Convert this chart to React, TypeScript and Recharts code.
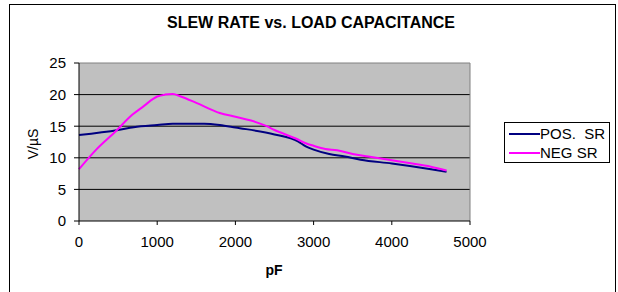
import React from "react";
import { LineChart, Line, XAxis, YAxis, CartesianGrid, ReferenceLine } from "recharts";

const posX = [0, 500, 700, 1000, 1200, 1600, 1800, 2000, 2500, 2800, 2900, 3000, 3200, 3400, 3600, 4000, 4500, 4700];
const posY = [13.6, 14.4, 14.85, 15.2, 15.4, 15.4, 15.2, 14.8, 13.7, 12.6, 11.8, 11.3, 10.6, 10.2, 9.7, 9.1, 8.2, 7.8];

const negX = [0, 220, 470, 680, 820, 1000, 1100, 1200, 1300, 1500, 1800, 2000, 2200, 2400, 2500, 2800, 2900, 3000, 3150, 3300, 3500, 3700, 3900, 4200, 4500, 4700];
const negY = [8.2, 11.3, 14.2, 16.8, 18.1, 19.7, 20.0, 20.1, 19.7, 18.7, 17.1, 16.5, 15.9, 15.0, 14.4, 12.9, 12.3, 11.9, 11.4, 11.2, 10.6, 10.2, 9.8, 9.2, 8.6, 8.0];

const xTicks = [0, 1000, 2000, 3000, 4000, 5000];
const yTicks = [0, 5, 10, 15, 20, 25];

const posData = posX.map((x, i) => ({ x, y: posY[i] }));
const negData = negX.map((x, i) => ({ x, y: negY[i] }));

const FONT = "'Liberation Sans', Arial, sans-serif";

export default function App() {
  return (
    <div style={{ position: "absolute", left: 0, top: 0, width: 618, height: 292, overflow: "hidden", background: "#fff", fontFamily: FONT }}>
      <div style={{ position: "absolute", left: 9, top: 4, width: 605, height: 300, border: "1px solid #000" }} />
      <div style={{ position: "absolute", left: 0, top: 13, width: 622, textAlign: "center", fontWeight: "bold", fontSize: 16, lineHeight: "20px" }}>
        SLEW RATE vs. LOAD CAPACITANCE
      </div>
      <div style={{ position: "absolute", left: 0, top: 0 }}>
        <LineChart width={618} height={292} margin={{ top: 63, right: 148, bottom: 41, left: 19 }}>
          <CartesianGrid fill="#C0C0C0" stroke="#000" vertical={false} horizontalValues={[5, 10, 15, 20]} strokeOpacity={1} />
          <ReferenceLine y={25} stroke="#808080" strokeWidth={1} />
          <ReferenceLine x={5000} stroke="#808080" strokeWidth={1} />
          <XAxis
            type="number"
            dataKey="x"
            domain={[0, 5000]}
            ticks={xTicks}
            tickLine={{ stroke: "#000" }}
            axisLine={{ stroke: "#000" }}
            tickSize={4}
            tickMargin={11}
            interval={0}
            allowDuplicatedCategory={false}
            tick={{ fill: "#000", fontSize: 15, fontFamily: FONT }}
          />
          <YAxis
            type="number"
            dataKey="y"
            domain={[0, 25]}
            ticks={yTicks}
            tickLine={{ stroke: "#000" }}
            axisLine={{ stroke: "#000" }}
            tickSize={5}
            tickMargin={8}
            interval={0}
            tick={{ fill: "#000", fontSize: 15, fontFamily: FONT }}
          />
          <Line data={posData} dataKey="y" type="monotone" stroke="#000080" strokeWidth={2} dot={false} isAnimationActive={false} />
          <Line data={negData} dataKey="y" type="monotone" stroke="#FF00FF" strokeWidth={2} dot={false} isAnimationActive={false} />
        </LineChart>
      </div>
      <div style={{ position: "absolute", left: 254, top: 261, width: 40, textAlign: "center", fontWeight: "bold", fontSize: 14, lineHeight: "18px" }}>
        pF
      </div>
      <div style={{ position: "absolute", left: 33, top: 144, transform: "translate(-50%, -50%) rotate(-90deg)", fontSize: 14, lineHeight: "16px", whiteSpace: "nowrap" }}>
        V/µS
      </div>
      <div style={{ position: "absolute", left: 504, top: 122, width: 104, height: 39, border: "1px solid #000", background: "#fff", fontSize: 15 }}>
        <div style={{ position: "absolute", left: 4, top: 1, display: "flex", alignItems: "center", height: 19, whiteSpace: "pre", lineHeight: "19px" }}>
          <div style={{ width: 31, height: 2, background: "#000080" }} />
          <span>POS.  SR</span>
        </div>
        <div style={{ position: "absolute", left: 4, top: 20, display: "flex", alignItems: "center", height: 19, whiteSpace: "pre", lineHeight: "19px" }}>
          <div style={{ width: 31, height: 2, background: "#FF00FF" }} />
          <span>NEG SR</span>
        </div>
      </div>
    </div>
  );
}
